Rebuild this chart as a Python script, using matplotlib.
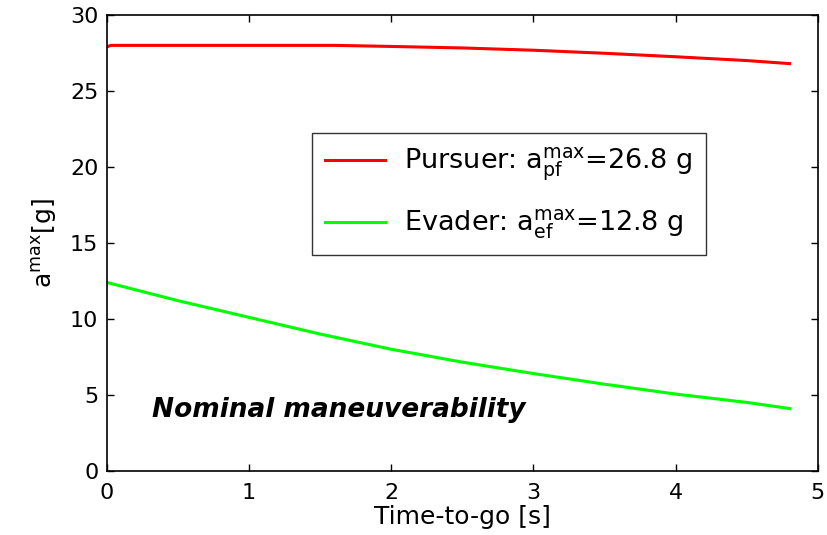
import matplotlib
matplotlib.use("Agg")
import matplotlib.pyplot as plt

plt.rcParams['font.family'] = ['DejaVu Sans']
plt.rcParams['mathtext.fontset'] = 'dejavusans'

# Data
t_p = [0.0, 0.03, 0.5, 1.0, 1.6, 2.0, 2.5, 3.0, 3.5, 4.0, 4.5, 4.8]
a_p = [27.9, 28.0, 28.0, 28.0, 28.0, 27.93, 27.83, 27.68, 27.48, 27.25, 27.0, 26.8]
t_e = [0.0, 0.5, 1.0, 1.5, 2.0, 2.5, 3.0, 3.5, 4.0, 4.5, 4.8]
a_e = [12.4, 11.2, 10.1, 9.0, 8.0, 7.15, 6.4, 5.7, 5.05, 4.5, 4.1]
labels = [r'Pursuer: $\mathregular{a_{pf}^{max}}$=26.8 g',
          r'Evader: $\mathregular{a_{ef}^{max}}$=12.8 g']
xticks = [0, 1, 2, 3, 4, 5]
yticks = [0, 5, 10, 15, 20, 25, 30]

fig = plt.figure(figsize=(8.27, 5.35), dpi=100)
ax = fig.add_axes([0.129, 0.12, 0.860, 0.852])
ax.plot(t_p, a_p, color='#ff0000', lw=2.2, label=labels[0])
ax.plot(t_e, a_e, color='#00ff00', lw=2.2, label=labels[1])
ax.set_xlim(0, 5)
ax.set_ylim(0, 30)
ax.set_xticks(xticks)
ax.set_yticks(yticks)
ax.tick_params(direction='in', top=True, right=True, labelsize=16, length=5, width=1)
ax.tick_params(axis='x', pad=9)
ax.tick_params(axis='y', pad=6)
for s in ax.spines.values():
    s.set_linewidth(1.2)
ax.set_xlabel('Time-to-go [s]', fontsize=18, labelpad=1)
ax.set_ylabel(r'$\mathregular{a^{max}}$[g]', fontsize=18, labelpad=8)
leg = ax.legend(loc='upper left', bbox_to_anchor=(0.288, 0.742), fontsize=19.5,
                frameon=True, fancybox=False, edgecolor='black', handlelength=2.2,
                borderpad=0.5, labelspacing=0.9, handletextpad=0.7, borderaxespad=0)
leg.get_frame().set_linewidth(1.0)
ax.text(0.32, 4.0, 'Nominal maneuverability', fontsize=19, fontweight='bold',
        fontstyle='italic', va='center', ha='left')
fig.savefig('out.png', dpi=100)
